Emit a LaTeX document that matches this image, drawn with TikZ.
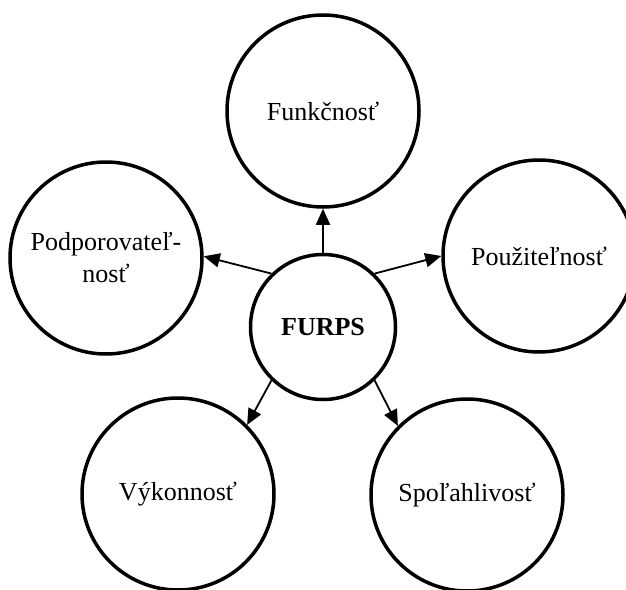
\documentclass[tikz,border=0pt]{standalone}
\usepackage{fontspec}
\setmainfont{Liberation Serif}
\usetikzlibrary{arrows.meta}
\begin{document}
\begin{tikzpicture}[x=1pt,y=-1pt,
  item/.style={draw, circle, line width=3.5pt, inner sep=0pt, minimum size=192pt,
    font=\fontsize{26}{32}\selectfont, align=center},
  hub/.style={draw, circle, line width=3.5pt, inner sep=0pt, minimum size=145pt,
    font=\fontsize{26}{32}\selectfont\bfseries},
  link/.style={line width=1.8pt, -{Triangle[length=16pt,width=14pt]}}]
\useasboundingbox (0,0) rectangle (626,589);
\clip (0,0) rectangle (626,589);

% central quality model
\node[hub] (furps) at (323,327) {FURPS};

% the five quality attributes
\node[item] (func) at (323,111) {Funkčnosť};
\node[item] (supp) at (106,258) {Podporovateľ-\\nosť};
\node[item] (use)  at (539,256) {Použiteľnosť};
\node[item] (perf) at (178,494) {Výkonnosť};
\node[item] (rel)  at (467,495) {Spoľahlivosť};

% arrows from the hub
\draw[link] (furps.90)  -- (func.270);
\draw[link] (furps.134) -- (supp.1);
\draw[link] (furps.46)  -- (use.180);
\draw[link] (furps.226) -- (perf.45);
\draw[link] (furps.314) -- (rel.135);
\end{tikzpicture}
\end{document}
